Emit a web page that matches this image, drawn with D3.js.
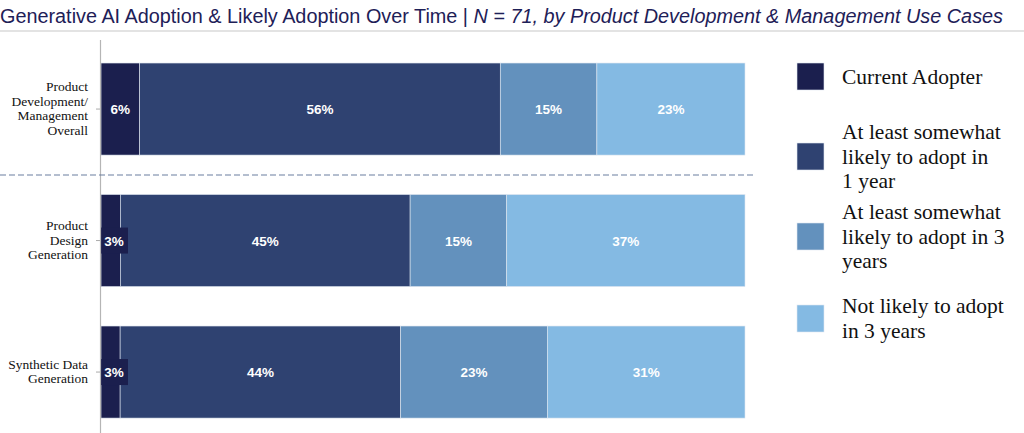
<!DOCTYPE html>
<html><head><meta charset="utf-8">
<script src="https://cdn.jsdelivr.net/npm/d3@7"></script>
<style>body{margin:0;background:#fff}svg{display:block}</style>
</head><body>
<svg id="chart" width="1024" height="433"></svg>
<script>
const categories = [["Product","Development/","Management","Overall"],["Product","Design","Generation"],["Synthetic Data","Generation"]];
const categoryKeys = ["Product Development/Management Overall","Product Design Generation","Synthetic Data Generation"];
const seriesNames = ["Current Adopter","At least somewhat likely to adopt in 1 year","At least somewhat likely to adopt in 3 years","Not likely to adopt in 3 years"];
const legendLines = [["Current Adopter"],["At least somewhat","likely to adopt in","1 year"],["At least somewhat","likely to adopt in 3","years"],["Not likely to adopt","in 3 years"]];
const currentAdopter = [6,3,3];
const likely1Year = [56,45,44];
const likely3Years = [15,15,23];
const notLikely = [23,37,31];
const colors = ["#1b1f4e","#2f4271","#6391bd","#84bae3"];

const series = [currentAdopter, likely1Year, likely3Years, notLikely];
const svg = d3.select("#chart");

// title
const title = svg.append("text").attr("x",0).attr("y",23)
  .attr("font-family","'Liberation Sans Narrow','Arial Narrow','Liberation Sans',sans-serif")
  .attr("font-size",20).attr("fill","#1e2057");
title.append("tspan").text("Generative AI Adoption & Likely Adoption Over Time | ");
title.append("tspan").attr("font-style","italic").text("N = 71, by Product Development & Management Use Cases");
const tw = title.node().getComputedTextLength();
if (Math.abs(tw - 1003) > 4) title.attr("textLength",1003).attr("lengthAdjust","spacingAndGlyphs");
svg.append("line").attr("x1",0).attr("x2",1024).attr("y1",31).attr("y2",31)
  .attr("stroke","#e3e3e3").attr("stroke-width",2);

const y = d3.scaleBand().domain(categoryKeys).range([43.3,437.8]).paddingInner(0.3).paddingOuter(0.15);
const x0 = 101, x1 = 745;

categoryKeys.forEach((cat,i)=>{
  const vals = series.map(s=>s[i]);
  const total = d3.sum(vals);
  const x = d3.scaleLinear().domain([0,total]).range([x0,x1]);
  let acc = 0;
  const g = svg.append("g");
  vals.forEach((v,j)=>{
    const xa = x(acc), xb = x(acc+v);
    g.append("rect").attr("x",xa).attr("y",y(cat)).attr("width",xb-xa).attr("height",y.bandwidth())
      .attr("fill",colors[j]).attr("stroke","#dfe6f0").attr("stroke-width",0.6);
    acc += v;
  });
  acc = 0;
  vals.forEach((v,j)=>{
    const xa = x(acc), xb = x(acc+v);
    const cy = y(cat)+y.bandwidth()/2;
    const narrow = (xb-xa) < 30;
    if (narrow){
      g.append("rect").attr("x",xa).attr("y",cy-13).attr("width",27).attr("height",26).attr("fill",colors[j]);
    }
    g.append("text").attr("x", narrow ? xa+13 : (xa+xb)/2).attr("y",cy+5)
      .attr("text-anchor","middle").attr("font-family","'Liberation Sans',Arial,sans-serif")
      .attr("font-size",13.5).attr("font-weight","bold").attr("fill","#fff").text(v+"%");
    acc += v;
  });
  // category label
  const lines = categories[i];
  const lh = 14.5;
  const cy = y(cat)+y.bandwidth()/2;
  const t = svg.append("text").attr("text-anchor","end")
    .attr("font-family","'Liberation Serif','Times New Roman',serif").attr("font-size",13.5).attr("fill","#111");
  lines.forEach((l,k)=>{
    t.append("tspan").attr("x",88).attr("y",cy + (k-(lines.length-1)/2)*lh + 4).text(l);
  });
  svg.append("line").attr("x1",96).attr("x2",100).attr("y1",cy).attr("y2",cy).attr("stroke","#aaa");
});

// axis line
svg.append("line").attr("x1",100.5).attr("x2",100.5).attr("y1",40).attr("y2",433).attr("stroke","#b5b5b5").attr("stroke-width",1.2);
// dashed separator
svg.append("line").attr("x1",0).attr("x2",756).attr("y1",175).attr("y2",175)
  .attr("stroke","#6b7f9f").attr("stroke-width",1.2).attr("stroke-dasharray","6,3");

// legend
const legY = [63,143,223,305];
legendLines.forEach((lines,i)=>{
  svg.append("rect").attr("x",797).attr("y",legY[i]).attr("width",27).attr("height",27)
    .attr("fill",colors[i]).attr("stroke","#dfe6f0").attr("stroke-width",0.6);
  const cy = legY[i]+13.5;
  const lh = 24.5;
  const t = svg.append("text").attr("font-family","'Liberation Serif','Times New Roman',serif")
    .attr("font-size",21.5).attr("fill","#111");
  lines.forEach((l,k)=>{
    t.append("tspan").attr("x",842).attr("y",cy + (k-(lines.length-1)/2)*lh + 7).text(l);
  });
});
</script>
</body></html>
